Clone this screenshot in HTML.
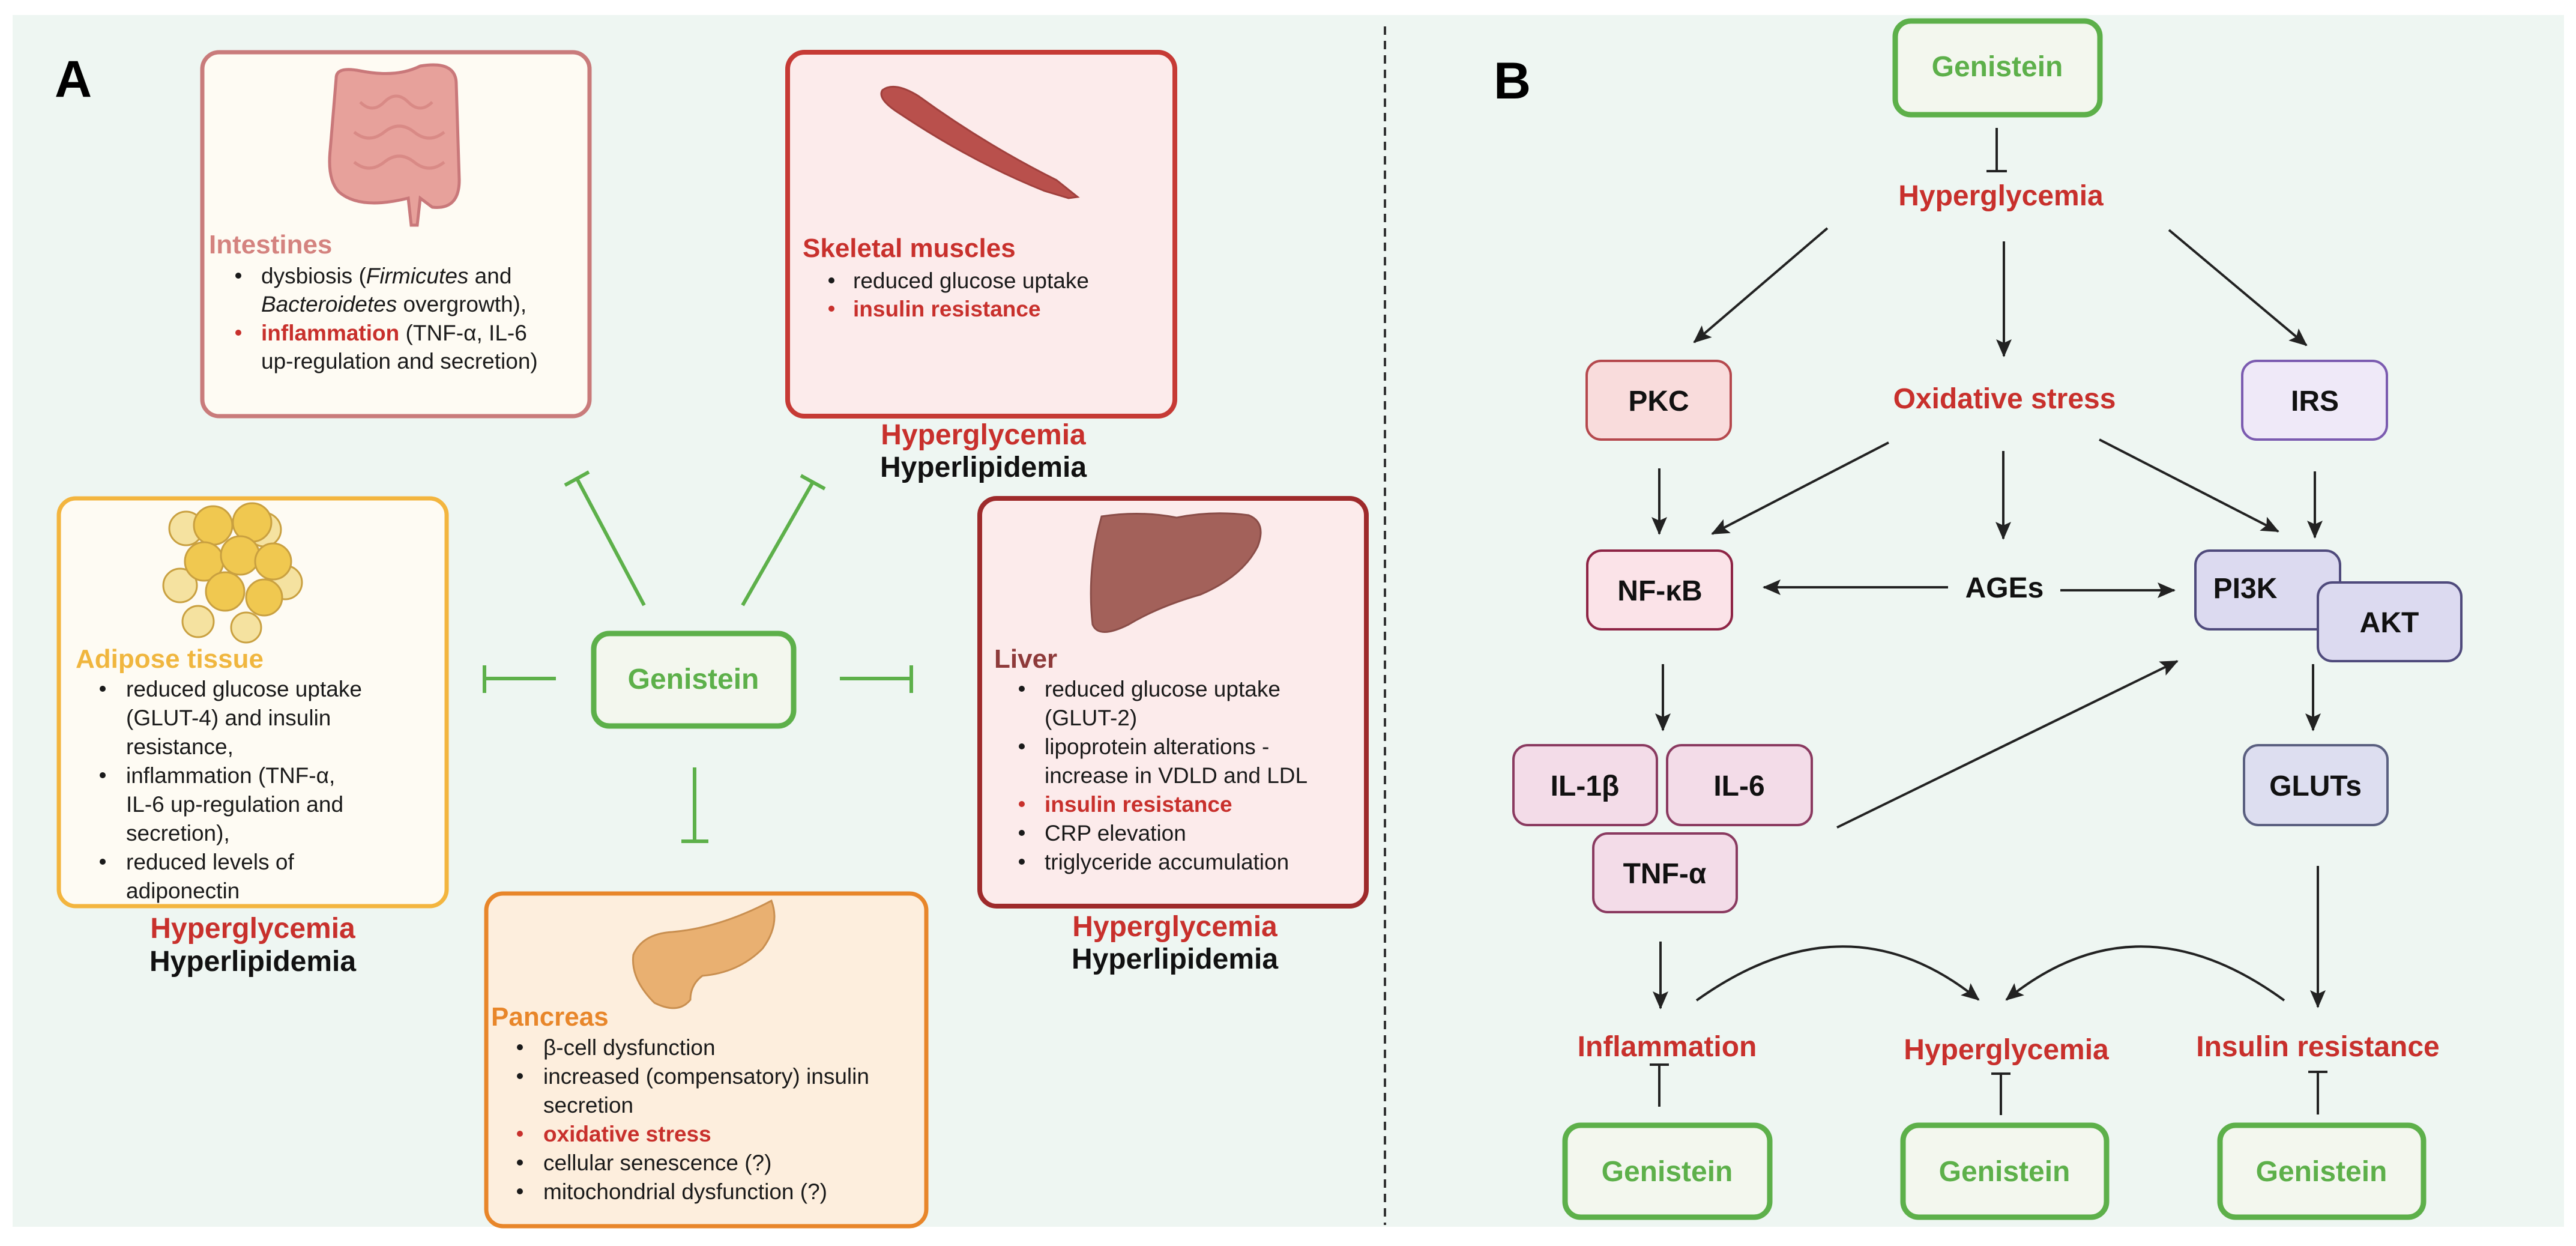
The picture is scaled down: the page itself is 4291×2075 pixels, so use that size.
<!DOCTYPE html>
<html><head><meta charset="utf-8"><style>
html,body{margin:0;padding:0;background:#fff;}
svg{display:block;}
text{font-family:"Liberation Sans",Arial,sans-serif;}
.b{font-size:37px;fill:#1a1a1a;}
.r{fill:#C8302C;font-weight:bold;}
.h{font-size:48px;font-weight:bold;text-anchor:middle;}
.n{font-size:48px;font-weight:bold;text-anchor:middle;fill:#111;}
.g{font-size:48px;font-weight:bold;text-anchor:middle;fill:#5DB04A;}
.t{font-size:44px;font-weight:bold;}
</style></head><body>
<svg width="4291" height="2075" viewBox="0 0 4291 2075" xmlns="http://www.w3.org/2000/svg">
<defs>
<marker id="ar" markerUnits="userSpaceOnUse" markerWidth="30" markerHeight="26" refX="28" refY="13" orient="auto"><path d="M0,0 L30,13 L0,26 L6,13 Z" fill="#222"/></marker>
</defs>
<rect x="21" y="25" width="4250" height="2018" fill="#EEF6F2"/>
<line x1="2307" y1="44" x2="2307" y2="2040" stroke="#333" stroke-width="4" stroke-dasharray="14,10"/>
<text x="91" y="161" font-size="86" font-weight="bold" fill="#000">A</text>
<text x="2488" y="164" font-size="86" font-weight="bold" fill="#000">B</text>

<!-- Intestines -->
<rect x="337" y="87" width="645" height="606" rx="28" fill="#FEFBF3" stroke="#C97B7B" stroke-width="7"/>
<g fill="#E7A19B" stroke="#C9787A" stroke-width="5">
<path d="M560 130 Q560 110 600 118 Q660 130 700 110 Q760 100 760 140 L765 300 Q765 350 720 345 L700 330 L695 375 L685 375 L680 330 Q600 350 565 320 Q545 300 550 250 Z"/>
<path d="M600 170 q20 20 40 0 q20 -20 40 0 q20 20 40 0 M590 220 q25 20 50 0 q25 -20 50 0 q25 20 50 0 M590 270 q25 20 50 0 q25 -20 50 0 q25 20 50 0" fill="none" stroke="#D98A86"/>
</g>
<text x="348" y="422" class="t" fill="#D4837F">Intestines</text>
<circle cx="397" cy="459" r="5" fill="#1a1a1a"/>
<text x="435" y="472" class="b">dysbiosis (<tspan font-style="italic">Firmicutes</tspan> and</text>
<text x="435" y="519" class="b"><tspan font-style="italic">Bacteroidetes</tspan> overgrowth),</text>
<circle cx="397" cy="554" r="5" fill="#C8302C"/>
<text x="435" y="567" class="b"><tspan class="r">inflammation</tspan>  (TNF-α, IL-6</text>
<text x="435" y="614" class="b">up-regulation and secretion)</text>

<!-- Skeletal -->
<rect x="1312" y="87" width="645" height="606" rx="28" fill="#FCEBEB" stroke="#C63A35" stroke-width="8"/>
<path d="M1470 150 Q1490 135 1530 160 Q1640 240 1760 300 L1795 328 L1780 330 L1740 318 Q1620 270 1500 190 Q1460 165 1470 150 Z" fill="#B9504C" stroke="#A0403D" stroke-width="3"/>
<text x="1337" y="428" class="t" fill="#C8302C">Skeletal muscles</text>
<circle cx="1385" cy="467" r="5" fill="#1a1a1a"/>
<text x="1421" y="480" class="b">reduced glucose uptake</text>
<circle cx="1385" cy="514" r="5" fill="#C8302C"/>
<text x="1421" y="527" class="b r">insulin resistance</text>
<text x="1638" y="740" class="h" fill="#C8302C">Hyperglycemia</text>
<text x="1638" y="794" class="h" fill="#111">Hyperlipidemia</text>

<!-- Adipose -->
<rect x="98" y="830" width="646" height="679" rx="28" fill="#FEFBF3" stroke="#F3B53F" stroke-width="7"/>
<g stroke="#C9A040" stroke-width="3">
<circle cx="310" cy="880" r="28" fill="#F5E2A0"/><circle cx="440" cy="882" r="28" fill="#F5E2A0"/>
<circle cx="300" cy="975" r="28" fill="#F5E2A0"/><circle cx="475" cy="970" r="28" fill="#F5E2A0"/>
<circle cx="330" cy="1035" r="26" fill="#F5E2A0"/><circle cx="410" cy="1045" r="25" fill="#F5E2A0"/>
<circle cx="355" cy="875" r="32" fill="#F0C850"/><circle cx="420" cy="870" r="32" fill="#F0C850"/>
<circle cx="340" cy="935" r="32" fill="#F0C850"/><circle cx="400" cy="925" r="32" fill="#F0C850"/>
<circle cx="455" cy="935" r="30" fill="#F0C850"/><circle cx="375" cy="985" r="32" fill="#F0C850"/>
<circle cx="440" cy="995" r="30" fill="#F0C850"/>
</g>
<text x="126" y="1112" class="t" fill="#F0B63E">Adipose tissue</text>
<g class="b">
<circle cx="171" cy="1147" r="5" fill="#1a1a1a"/><text x="210" y="1160">reduced glucose uptake</text>
<text x="210" y="1208">(GLUT-4) and insulin</text>
<text x="210" y="1256">resistance,</text>
<circle cx="171" cy="1291" r="5" fill="#1a1a1a"/><text x="210" y="1304">inflammation (TNF-α,</text>
<text x="210" y="1352">IL-6 up-regulation and</text>
<text x="210" y="1400">secretion),</text>
<circle cx="171" cy="1435" r="5" fill="#1a1a1a"/><text x="210" y="1448">reduced levels of</text>
<text x="210" y="1496">adiponectin</text>
</g>
<text x="421" y="1562" class="h" fill="#C8302C">Hyperglycemia</text>
<text x="421" y="1617" class="h" fill="#111">Hyperlipidemia</text>

<!-- Liver -->
<rect x="1632" y="830" width="644" height="679" rx="28" fill="#FCEBEB" stroke="#9E2A2B" stroke-width="8"/>
<path d="M1835 860 Q1900 850 1960 862 Q2020 850 2080 858 Q2110 870 2095 910 Q2070 960 2000 990 Q1930 1010 1880 1040 Q1830 1065 1820 1040 Q1810 950 1835 860 Z" fill="#A3615A" stroke="#8A4D48" stroke-width="3"/>
<text x="1656" y="1112" class="t" fill="#8E3A3A">Liver</text>
<g class="b">
<circle cx="1702" cy="1147" r="5" fill="#1a1a1a"/><text x="1740" y="1160">reduced glucose uptake</text>
<text x="1740" y="1208">(GLUT-2)</text>
<circle cx="1702" cy="1243" r="5" fill="#1a1a1a"/><text x="1740" y="1256">lipoprotein alterations -</text>
<text x="1740" y="1304">increase in VDLD and LDL</text>
<circle cx="1702" cy="1339" r="5" fill="#C8302C"/><text x="1740" y="1352" class="r">insulin resistance</text>
<circle cx="1702" cy="1387" r="5" fill="#1a1a1a"/><text x="1740" y="1400">CRP elevation</text>
<circle cx="1702" cy="1435" r="5" fill="#1a1a1a"/><text x="1740" y="1448">triglyceride accumulation</text>
</g>
<text x="1957" y="1559" class="h" fill="#C8302C">Hyperglycemia</text>
<text x="1957" y="1613" class="h" fill="#111">Hyperlipidemia</text>

<!-- Pancreas -->
<rect x="810" y="1488" width="733" height="554" rx="28" fill="#FDEEDD" stroke="#E8862A" stroke-width="7"/>
<path d="M1285 1500 Q1300 1540 1270 1580 Q1230 1620 1170 1625 Q1150 1640 1150 1665 Q1130 1690 1090 1670 Q1050 1630 1055 1590 Q1070 1555 1120 1552 Q1200 1545 1285 1500 Z" fill="#E9B071" stroke="#C98F50" stroke-width="3"/>
<text x="818" y="1708" class="t" fill="#E8862A">Pancreas</text>
<g class="b">
<circle cx="866" cy="1744" r="5" fill="#1a1a1a"/><text x="905" y="1757">β-cell dysfunction</text>
<circle cx="866" cy="1792" r="5" fill="#1a1a1a"/><text x="905" y="1805">increased (compensatory) insulin</text>
<text x="905" y="1853">secretion</text>
<circle cx="866" cy="1888" r="5" fill="#C8302C"/><text x="905" y="1901" class="r">oxidative stress</text>
<circle cx="866" cy="1936" r="5" fill="#1a1a1a"/><text x="905" y="1949">cellular senescence (?)</text>
<circle cx="866" cy="1984" r="5" fill="#1a1a1a"/><text x="905" y="1997">mitochondrial dysfunction (?)</text>
</g>

<!-- Genistein A -->
<rect x="989" y="1055" width="333" height="154" rx="26" fill="#F3F7EE" stroke="#5DB04A" stroke-width="9"/>
<text x="1155" y="1147" class="g">Genistein</text>
<g stroke="#5DB04A" stroke-width="6" fill="none">
<line x1="1073" y1="1008" x2="961" y2="797"/><line x1="941" y1="808" x2="981" y2="786"/>
<line x1="1237" y1="1008" x2="1354" y2="803"/><line x1="1334" y1="792" x2="1374" y2="814"/>
<line x1="926" y1="1130" x2="807" y2="1130"/><line x1="807" y1="1108" x2="807" y2="1154"/>
<line x1="1399" y1="1130" x2="1518" y2="1130"/><line x1="1518" y1="1108" x2="1518" y2="1154"/>
<line x1="1157" y1="1278" x2="1157" y2="1401"/><line x1="1135" y1="1401" x2="1180" y2="1401"/>
</g>

<!-- Panel B -->
<rect x="3157" y="35" width="341" height="156" rx="26" fill="#F3F7EE" stroke="#5DB04A" stroke-width="9"/>
<text x="3327" y="127" class="g">Genistein</text>
<g stroke="#222" stroke-width="4">
<line x1="3326" y1="213" x2="3326" y2="285"/><line x1="3309" y1="285" x2="3343" y2="285"/>
</g>
<text x="3333" y="342" class="h" fill="#C8302C">Hyperglycemia</text>
<g stroke="#222" stroke-width="4" fill="none" marker-end="url(#ar)">
<line x1="3044" y1="380" x2="2822" y2="570"/>
<line x1="3338" y1="402" x2="3338" y2="593"/>
<line x1="3613" y1="383" x2="3842" y2="575"/>
<line x1="2764" y1="780" x2="2764" y2="889"/>
<line x1="3146" y1="737" x2="2852" y2="889"/>
<line x1="3337" y1="751" x2="3337" y2="897"/>
<line x1="3497" y1="732" x2="3795" y2="885"/>
<line x1="3856" y1="785" x2="3856" y2="895"/>
<line x1="3245" y1="978" x2="2938" y2="978"/>
<line x1="3432" y1="983" x2="3622" y2="983"/>
<line x1="2770" y1="1106" x2="2770" y2="1216"/>
<line x1="3060" y1="1378" x2="3627" y2="1101"/>
<line x1="3853" y1="1106" x2="3853" y2="1216"/>
<line x1="3861" y1="1442" x2="3861" y2="1677"/>
<line x1="2766" y1="1568" x2="2766" y2="1679"/>
<path d="M2826 1666 Q3077 1487 3296 1665"/>
<path d="M3805 1666 Q3560 1487 3342 1665"/>
</g>
<rect x="2643" y="601" width="240" height="131" rx="24" fill="#F9DCDC" stroke="#B5484D" stroke-width="4"/>
<text x="2763" y="684" class="n">PKC</text>
<text x="3339" y="680" class="h" fill="#C8302C">Oxidative stress</text>
<rect x="3735" y="601" width="241" height="131" rx="24" fill="#EFE9F8" stroke="#7B5BB0" stroke-width="4"/>
<text x="3856" y="684" class="n">IRS</text>
<rect x="2644" y="917" width="241" height="131" rx="24" fill="#FBE3E8" stroke="#8E2445" stroke-width="4"/>
<text x="2765" y="1000" class="n">NF-κB</text>
<text x="3339" y="995" class="n">AGEs</text>
<rect x="3657" y="917" width="241" height="131" rx="24" fill="#DCDAF0" stroke="#4F4A7C" stroke-width="4"/>
<text x="3740" y="996" class="n">PI3K</text>
<rect x="3861" y="970" width="239" height="131" rx="24" fill="#DCDAF0" stroke="#4F4A7C" stroke-width="4"/>
<text x="3980" y="1053" class="n">AKT</text>
<rect x="2521" y="1241" width="239" height="133" rx="24" fill="#F3DCE8" stroke="#8A3A60" stroke-width="4"/>
<text x="2640" y="1325" class="n">IL-1β</text>
<rect x="2777" y="1241" width="241" height="133" rx="24" fill="#F3DCE8" stroke="#8A3A60" stroke-width="4"/>
<text x="2897" y="1325" class="n">IL-6</text>
<rect x="2654" y="1388" width="239" height="131" rx="24" fill="#F3DCE8" stroke="#8A3A60" stroke-width="4"/>
<text x="2773" y="1471" class="n">TNF-α</text>
<rect x="3738" y="1241" width="239" height="133" rx="24" fill="#DDDEF0" stroke="#5A5F80" stroke-width="4"/>
<text x="3857" y="1325" class="n">GLUTs</text>

<text x="2777" y="1759" class="h" fill="#C8302C">Inflammation</text>
<text x="3342" y="1764" class="h" fill="#C8302C">Hyperglycemia</text>
<text x="3861" y="1759" class="h" fill="#C8302C">Insulin resistance</text>
<g stroke="#222" stroke-width="4">
<line x1="2764" y1="1773" x2="2764" y2="1843"/><line x1="2748" y1="1773" x2="2780" y2="1773"/>
<line x1="3333" y1="1788" x2="3333" y2="1857"/><line x1="3317" y1="1788" x2="3349" y2="1788"/>
<line x1="3861" y1="1785" x2="3861" y2="1856"/><line x1="3845" y1="1785" x2="3877" y2="1785"/>
</g>
<rect x="2607" y="1874" width="341" height="153" rx="26" fill="#F3F7EE" stroke="#5DB04A" stroke-width="9"/>
<text x="2777" y="1967" class="g">Genistein</text>
<rect x="3170" y="1874" width="339" height="153" rx="26" fill="#F3F7EE" stroke="#5DB04A" stroke-width="9"/>
<text x="3339" y="1967" class="g">Genistein</text>
<rect x="3698" y="1874" width="339" height="153" rx="26" fill="#F3F7EE" stroke="#5DB04A" stroke-width="9"/>
<text x="3867" y="1967" class="g">Genistein</text>
</svg>
</body></html>
